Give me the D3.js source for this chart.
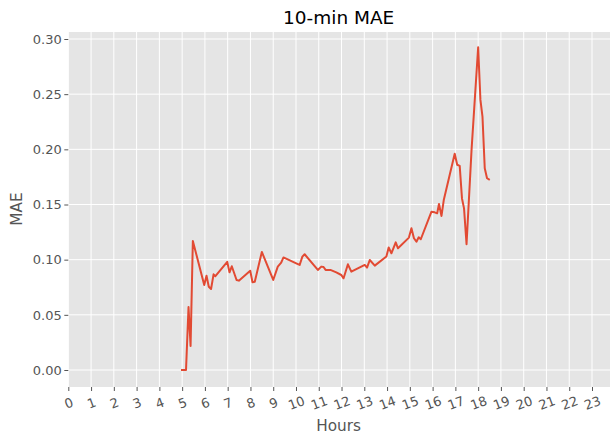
<!DOCTYPE html>
<html>
<head>
<meta charset="utf-8">
<script src="https://cdn.jsdelivr.net/npm/d3@7"></script>
<style>
    body { margin: 0; background: #fff; }
    text { font-family: "DejaVu Sans", sans-serif; }
</style>
</head>
<body>
<div id="chart"></div>
<script>
// hours of day (x) and the 10-min MAE values
const hours = [
    4.95, 5.17, 5.28, 5.37, 5.47, 5.97, 6.07, 6.17, 6.27, 6.38, 6.46, 6.98, 7.08, 7.18,
    7.39, 7.49, 7.99, 8.09, 8.19, 8.5, 9.0, 9.2, 9.35, 9.45, 10.01, 10.16, 10.28, 10.38,
    10.96, 11.11, 11.21, 11.3, 11.51, 11.77, 11.99, 12.09, 12.28, 12.43, 13.02, 13.12,
    13.24, 13.46, 13.97, 14.07, 14.19, 14.38, 14.48, 14.96, 15.07, 15.18, 15.29, 15.39,
    15.48, 15.95, 16.09, 16.2, 16.28, 16.39, 16.49, 16.97, 17.08, 17.19, 17.29, 17.38,
    17.49, 17.71, 18.0, 18.1, 18.19, 18.29, 18.39, 18.51
];
const mae = [
    0.0, 0.0, 0.057, 0.0218, 0.117, 0.077, 0.0855, 0.0755, 0.0734, 0.0867, 0.085, 0.098, 0.0885, 0.094,
    0.0816, 0.081, 0.09, 0.0795, 0.080, 0.107, 0.0816, 0.0937, 0.0973, 0.102, 0.0967, 0.0952, 0.1027, 0.1049,
    0.0907, 0.0937, 0.0934, 0.0907, 0.0907, 0.0885, 0.0861, 0.0831, 0.0958, 0.0891, 0.0952, 0.0928,
    0.0997, 0.0946, 0.1028, 0.111, 0.1058, 0.1157, 0.1103, 0.12, 0.1284, 0.1194, 0.1163, 0.1203,
    0.1185, 0.1435, 0.1429, 0.142, 0.1505, 0.1396, 0.154, 0.196, 0.186, 0.185, 0.1555, 0.1465,
    0.114, 0.1995, 0.2925, 0.2448, 0.2297, 0.1828, 0.1738, 0.1723
];
const xTicks = d3.range(0, 24);
const yTicks = [0, 0.05, 0.10, 0.15, 0.20, 0.25, 0.30];

const width = 610,
    height = 439;
const plot = { left: 68.3, right: 610, top: 32, bottom: 387 };

const svg = d3.select("#chart")
    .append("svg")
    .attr("width", width)
    .attr("height", height);

const x = d3.scaleLinear().domain([0, 23]).range([68.3, 592]);
const y = d3.scaleLinear().domain([0, 0.3]).range([370, 39]);

// grey panel
svg.append("rect")
    .attr("x", plot.left)
    .attr("y", plot.top)
    .attr("width", plot.right - plot.left)
    .attr("height", plot.bottom - plot.top)
    .attr("fill", "#e5e5e5");

// grid
const grid = svg.append("g");
grid.selectAll(".vg")
    .data(xTicks)
    .enter()
    .append("line")
    .attr("x1", d => x(d)).attr("x2", d => x(d))
    .attr("y1", plot.top).attr("y2", plot.bottom)
    .attr("stroke", "#fff").attr("stroke-width", 1);
grid.selectAll(".hg")
    .data(yTicks)
    .enter()
    .append("line")
    .attr("x1", plot.left).attr("x2", plot.right)
    .attr("y1", d => y(d)).attr("y2", d => y(d))
    .attr("stroke", "#fff").attr("stroke-width", 1);

// x axis
const xAxis = svg.append("g")
    .attr("transform", "translate(0," + plot.bottom + ")")
    .call(d3.axisBottom(x).tickValues(xTicks).tickFormat(d3.format("d")).tickSize(4).tickSizeOuter(0));
xAxis.select(".domain").remove();
xAxis.selectAll(".tick line").attr("stroke", "#555");
xAxis.selectAll(".tick text")
    .attr("fill", "#555")
    .attr("font-size", 13)
    .attr("dy", null)
    .attr("y", 0)
    .attr("text-anchor", "middle")
    .attr("dominant-baseline", "central")
    .attr("transform", "translate(0,16) rotate(-20)");

// y axis
const yAxis = svg.append("g")
    .attr("transform", "translate(" + plot.left + ",0)")
    .call(d3.axisLeft(y).tickValues(yTicks).tickFormat(d3.format(".2f")).tickSize(4).tickSizeOuter(0));
yAxis.select(".domain").remove();
yAxis.selectAll(".tick line").attr("stroke", "#555");
yAxis.selectAll(".tick text")
    .attr("fill", "#555")
    .attr("font-size", 13)
    .attr("x", -6.5);

// line
const line = d3.line()
    .x((d, i) => x(hours[i]))
    .y(d => y(d));
svg.append("path")
    .datum(mae)
    .attr("d", line)
    .attr("fill", "none")
    .attr("stroke", "#E24A33")
    .attr("stroke-width", 2)
    .attr("stroke-linejoin", "round");

// labels
svg.append("text")
    .attr("x", (plot.left + plot.right) / 2 - 0.5)
    .attr("y", 24)
    .attr("text-anchor", "middle")
    .attr("font-size", 18.5)
    .attr("fill", "#000")
    .text("10-min MAE");
svg.append("text")
    .attr("x", (plot.left + plot.right) / 2 - 0.5)
    .attr("y", 431)
    .attr("text-anchor", "middle")
    .attr("font-size", 15.3)
    .attr("fill", "#555")
    .text("Hours");
svg.append("text")
    .attr("transform", "translate(22,209) rotate(-90)")
    .attr("text-anchor", "middle")
    .attr("font-size", 15.3)
    .attr("fill", "#555")
    .text("MAE");
</script>
</body>
</html>
